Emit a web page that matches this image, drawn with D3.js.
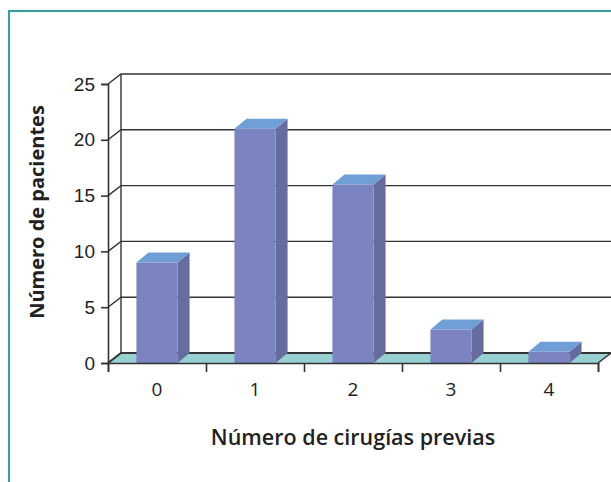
<!DOCTYPE html>
<html>
<head>
<meta charset="utf-8">
<script src="https://cdn.jsdelivr.net/npm/d3@7"></script>
<style>
  body { margin: 0; background: #fff; }
  svg { display: block; font-family: "Open Sans", "Noto Sans", sans-serif; }
</style>
</head>
<body>
<svg id="chart" width="611" height="482"></svg>
<script>
// Data
const categories = ["0", "1", "2", "3", "4"];
const patients = [9, 21, 16, 3, 1];
const yTicks = [0, 5, 10, 15, 20, 25];

const svg = d3.select("#chart"),
    width = +svg.attr("width"),
    height = +svg.attr("height");

// frame around the figure
svg.append("rect")
    .attr("x", 9)
    .attr("y", 11)
    .attr("width", 640)
    .attr("height", 500)
    .attr("fill", "none")
    .attr("stroke", "#3f9a9b")
    .attr("stroke-width", 2.2);

// front plane of the 3D box
const plotLeft = 108, plotRight = 598, plotBottom = 363, plotTop = 84;
const dx = 13, dy = -10; // depth of the box

const x = d3.scaleBand()
    .domain(categories)
    .range([plotLeft, plotRight])
    .paddingInner(0.58)
    .paddingOuter(0.29);

const y = d3.scaleLinear()
    .domain([0, 25])
    .range([plotBottom, plotTop]);

const g = svg.append("g");

// floor
g.append("path")
    .attr("d", `M${plotLeft},${plotBottom} L${plotRight},${plotBottom} L${plotRight + dx},${plotBottom + dy} L${plotLeft + dx},${plotBottom + dy} Z`)
    .attr("fill", "#97d0d1")
    .attr("stroke", "none");

// gridlines on back wall and side wall
yTicks.forEach(t => {
    g.append("path")
        .attr("d", `M${plotLeft},${y(t)} L${plotLeft + dx},${y(t) + dy} L${plotRight + dx + 20},${y(t) + dy}`)
        .attr("fill", "none")
        .attr("stroke", "#333")
        .attr("stroke-width", t === 0 ? 2 : 1.4);
});

// back wall vertical edge
g.append("line")
    .attr("x1", plotLeft + dx).attr("x2", plotLeft + dx)
    .attr("y1", y(0) + dy).attr("y2", y(25) + dy)
    .attr("stroke", "#333")
    .attr("stroke-width", 1.4);

// floor right edge
g.append("line")
    .attr("x1", plotRight).attr("y1", plotBottom)
    .attr("x2", plotRight + dx).attr("y2", plotBottom + dy)
    .attr("stroke", "#333")
    .attr("stroke-width", 1.4);

// bars
const bd = 12, bdy = -10;
const bars = g.selectAll(".bar")
    .data(patients)
    .join("g")
    .attr("class", "bar");

bars.append("path")
    .attr("d", (d, i) => {
        const x0 = x(categories[i]), x1 = x0 + x.bandwidth(), yt = y(d);
        return `M${x1},${plotBottom} L${x1 + bd},${plotBottom + bdy} L${x1 + bd},${yt + bdy} L${x1},${yt} Z`;
    })
    .attr("fill", "#676c9f");

bars.append("path")
    .attr("d", (d, i) => {
        const x0 = x(categories[i]), x1 = x0 + x.bandwidth(), yt = y(d);
        return `M${x0},${yt} L${x0 + bd},${yt + bdy} L${x1 + bd},${yt + bdy} L${x1},${yt} Z`;
    })
    .attr("fill", "#6f9fd6");

bars.append("rect")
    .attr("x", (d, i) => x(categories[i]))
    .attr("y", d => y(d))
    .attr("width", x.bandwidth())
    .attr("height", d => plotBottom - y(d))
    .attr("fill", "#7b83c1");

// axes
const yAxis = g.append("g")
    .attr("transform", `translate(${plotLeft},0)`)
    .call(d3.axisLeft(y).tickValues(yTicks).tickSize(7).tickPadding(6));

const xTickScale = d3.scalePoint()
    .domain(d3.range(categories.length + 1))
    .range([plotLeft, plotRight]);

const xAxis = g.append("g")
    .attr("transform", `translate(0,${plotBottom})`)
    .call(d3.axisBottom(xTickScale).tickSize(9).tickFormat(""));

[yAxis, xAxis].forEach(a => {
    a.select(".domain").attr("stroke", "#333").attr("stroke-width", 1.6);
    a.selectAll(".tick line").attr("stroke", "#333").attr("stroke-width", 1.6);
});
yAxis.selectAll(".tick text")
    .style("font-size", "19px")
    .style("fill", "#222");

// x category labels
g.selectAll(".xlabel")
    .data(categories)
    .join("text")
    .attr("class", "xlabel")
    .attr("x", d => x(d) + x.bandwidth() / 2)
    .attr("y", 396)
    .attr("text-anchor", "middle")
    .style("font-size", "19px")
    .style("fill", "#222")
    .text(d => d);

// axis titles
svg.append("text")
    .attr("x", (plotLeft + plotRight) / 2)
    .attr("y", 445)
    .attr("text-anchor", "middle")
    .style("font-size", "21.5px")
    .style("font-weight", "600")
    .style("fill", "#222")
    .text("Número de cirugías previas");

svg.append("text")
    .attr("transform", "rotate(-90)")
    .attr("x", -212)
    .attr("y", 44)
    .attr("text-anchor", "middle")
    .style("font-size", "20px")
    .style("font-weight", "700")
    .style("fill", "#222")
    .text("Número de pacientes");
</script>
</body>
</html>
